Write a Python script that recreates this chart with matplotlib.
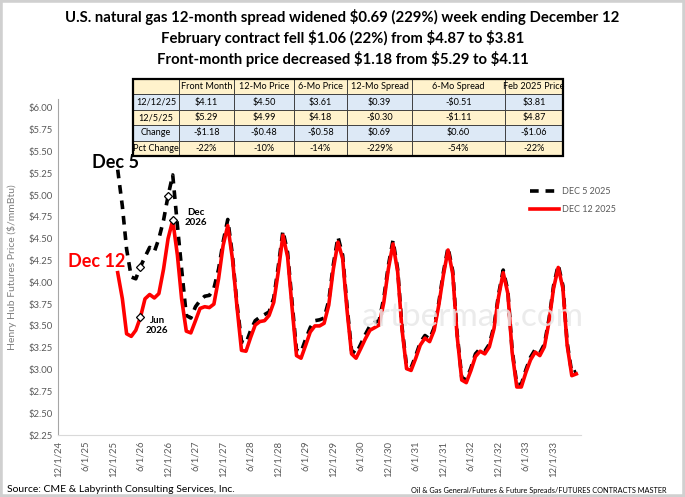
import matplotlib
matplotlib.use("Agg")
import matplotlib.pyplot as plt
import pandas as pd
import numpy as np

plt.rcParams['font.family'] = ['Lato', 'DejaVu Sans']

# ---------------- data ----------------
start_month = "2026-01-01"
dec12_2025 = [4.11, 3.81, 3.41, 3.38, 3.45, 3.60, 3.81, 3.86, 3.82, 3.87, 4.15, 4.50,
              4.71, 4.31, 3.81, 3.44, 3.42, 3.56, 3.70, 3.72, 3.71, 3.75, 4.04, 4.42,
              4.65, 4.27, 3.74, 3.22, 3.21, 3.37, 3.51, 3.55, 3.56, 3.62, 3.77, 4.12,
              4.54, 4.29, 3.74, 3.16, 3.13, 3.28, 3.43, 3.50, 3.50, 3.53, 3.74, 4.15,
              4.46, 4.27, 3.70, 3.18, 3.13, 3.24, 3.35, 3.45, 3.48, 3.51, 3.77, 4.15,
              4.44, 4.12, 3.47, 3.01, 2.99, 3.13, 3.28, 3.36, 3.32, 3.45, 3.74, 4.08,
              4.37, 4.10, 3.39, 2.88, 2.85, 2.99, 3.15, 3.21, 3.18, 3.26, 3.47, 3.83,
              4.11, 3.87, 3.20, 2.80, 2.80, 2.97, 3.11, 3.20, 3.16, 3.26, 3.55, 3.93,
              4.17, 3.93, 3.28, 2.93, 2.95]
dec5_2025 = [5.29, 4.87, 4.38, 4.06, 4.04, 4.18, 4.29, 4.40, 4.35, 4.50, 4.71, 4.99,
             5.23, 4.65, 4.15, 3.62, 3.59, 3.72, 3.79, 3.84, 3.85, 3.93, 4.15, 4.46,
             4.72, 4.31, 3.77, 3.32, 3.30, 3.45, 3.56, 3.60, 3.63, 3.66, 3.82, 4.18,
             4.59, 4.34, 3.80, 3.22, 3.20, 3.35, 3.48, 3.56, 3.57, 3.59, 3.79, 4.20,
             4.52, 4.31, 3.75, 3.22, 3.18, 3.29, 3.40, 3.50, 3.54, 3.56, 3.82, 4.19,
             4.48, 4.15, 3.50, 3.04, 3.02, 3.16, 3.31, 3.39, 3.35, 3.48, 3.77, 4.11,
             4.40, 4.13, 3.42, 2.91, 2.88, 3.02, 3.18, 3.24, 3.21, 3.29, 3.50, 3.86,
             4.14, 3.90, 3.23, 2.83, 2.83, 3.00, 3.14, 3.23, 3.19, 3.29, 3.58, 3.96,
             4.20, 3.96, 3.31, 2.96, 2.98]

table_cols = ["", "Front Month", "12-Mo Price", "6-Mo Price", "12-Mo Spread", "6-Mo Spread", "Feb 2025 Price"]
table_rows = [
    ["12/12/25", "$4.11", "$4.50", "$3.61", "$0.39", "-$0.51", "$3.81"],
    ["12/5/25", "$5.29", "$4.99", "$4.18", "-$0.30", "-$1.11", "$4.87"],
    ["Change", "-$1.18", "-$0.48", "-$0.58", "$0.69", "$0.60", "-$1.06"],
    ["Pct Change", "-22%", "-10%", "-14%", "-229%", "-54%", "-22%"],
]

title_lines = ["U.S. natural gas 12-month spread widened $0.69 (229%) week ending December 12",
               "February contract fell $1.06 (22%) from $4.87 to $3.81",
               "Front-month price decreased $1.18 from $5.29 to $4.11"]

dates12 = pd.date_range(start_month, periods=len(dec12_2025), freq="MS")
dates5 = pd.date_range(start_month, periods=len(dec5_2025), freq="MS")

W, H = 685, 497
fig = plt.figure(figsize=(W / 100, H / 100), dpi=100)

def fx(px):
    return px / W

def fy(py):
    return 1 - py / H

# border
fig.patches.append(plt.Rectangle((0, 0), 1, 1, transform=fig.transFigure, fill=False,
                                 edgecolor="#d0d0d0", linewidth=4))

# ---------------- main axes ----------------
ax_l, ax_r, ax_t, ax_b = 58, 581, 99, 435
ax = fig.add_axes([fx(ax_l), fy(ax_b), fx(ax_r) - fx(ax_l), fy(ax_t) - fy(ax_b)])
ax.set_ylim(2.25, 6.10)
ax.set_xlim(pd.Timestamp("2024-12-01"), pd.Timestamp("2034-06-01"))

ax.plot(dates5, dec5_2025, color="black", lw=2.6, dashes=(2.4, 1.9), label="DEC 5 2025", zorder=3)
ax.plot(dates12, dec12_2025, color="#ff0000", lw=2.6, label="DEC 12 2025", zorder=4)

# diamond markers
mk = dict(marker="D", ms=4.2, mfc="white", mec="black", mew=0.9, ls="none", zorder=6)
ax.plot([dates12[5], dates12[12]], [dec12_2025[5], dec12_2025[12]], **mk)
ax.plot([dates5[5], dates5[11]], [dec5_2025[5], dec5_2025[11]], **mk)

ax.set_yticks(np.arange(2.25, 6.01, 0.25))
ax.yaxis.set_major_formatter(matplotlib.ticker.FuncFormatter(lambda v, p: f"${v:.2f}"))
ticks = pd.date_range("2024-12-01", "2033-12-01", freq="6MS")
ax.set_xticks(ticks)
ax.set_xticklabels([f"{t.month}/{t.day}/{t.year % 100}" for t in ticks], rotation=90)
ax.tick_params(axis="both", length=0, labelsize=6.8, colors="#595959", pad=4)
for s in ("top", "right"):
    ax.spines[s].set_visible(False)
ax.spines["left"].set_color("#a6a6a6")
ax.spines["bottom"].set_color("#d9d9d9")
ax.set_ylabel("Henry Hub Futures Price ($/mmBtu)", fontsize=7.5, color="#7f7f7f", labelpad=8)

# legend placed in pixel coords
leg_x = (530 - ax_l) / (ax_r - ax_l)
leg_y = 1 - (187 - ax_t) / (ax_b - ax_t)
leg = ax.legend(loc="upper left", bbox_to_anchor=(leg_x, leg_y), borderaxespad=0, borderpad=0,
                frameon=False, fontsize=6.5, handlelength=3.2, labelspacing=1.0, handletextpad=0.3)
for t in leg.get_texts():
    t.set_color("#595959")

# annotations
ax.text(pd.Timestamp("2025-12-15"), 5.37, "Dec 5", fontsize=13, fontweight="bold", color="black",
        ha="center", va="center")
ax.text(pd.Timestamp("2025-08-15"), 4.24, "Dec 12", fontsize=13, fontweight="bold", color="#ff0000",
        ha="center", va="center")
ax.text(pd.Timestamp("2027-06-01"), 4.74, "Dec\n2026", fontsize=7, fontweight="bold", color="black",
        ha="center", va="center", linespacing=1.15)
ax.text(pd.Timestamp("2026-09-20"), 3.50, "Jun\n2026", fontsize=7, fontweight="bold", color="black",
        ha="center", va="center", linespacing=1.15)

# watermark
ax.text(pd.Timestamp("2032-06-15"), 3.60, "artberman.com", fontsize=24, color="#e8e8e8",
        ha="center", va="center", zorder=10, alpha=0.85)

# ---------------- title ----------------
for i, line in enumerate(title_lines):
    fig.text(0.5, fy(17 + 21 * i), line, ha="center", va="center", fontsize=10.7, fontweight="bold")

# ---------------- table ----------------
tax = fig.add_axes([fx(133), fy(156), fx(563) - fx(133), fy(79) - fy(156)])
tax.axis("off")
colw = np.array([46, 55, 60, 53, 65, 93, 58], dtype=float)
colw = colw / colw.sum()
cells = [table_cols] + table_rows
tbl = tax.table(cellText=cells, colWidths=list(colw), bbox=[0, 0, 1, 1], cellLoc="center")
tbl.auto_set_font_size(False)
cream = "#fff2cc"
blue = "#dde9f6"
for (r, c), cell in tbl.get_celld().items():
    cell.set_fontsize(6.6)
    cell.set_linewidth(0.6)
    cell.set_edgecolor("#333333")
    cell.set_facecolor(blue if r in (1, 3) else cream)
    cell.PAD = 0.02
tax.add_patch(plt.Rectangle((0, 0), 1, 1, transform=tax.transAxes, fill=False, edgecolor="black",
                            lw=1.6, zorder=10, clip_on=False))

# ---------------- footers ----------------
fig.text(fx(7), fy(489), "Source: CME & Labyrinth Consulting Services, Inc.", fontsize=7.5, va="center")
fig.text(fx(667), fy(490), "Oil & Gas General/Futures & Future Spreads/FUTURES CONTRACTS MASTER",
         fontsize=5.3, va="center", ha="right")

fig.savefig("out.png", dpi=100)
